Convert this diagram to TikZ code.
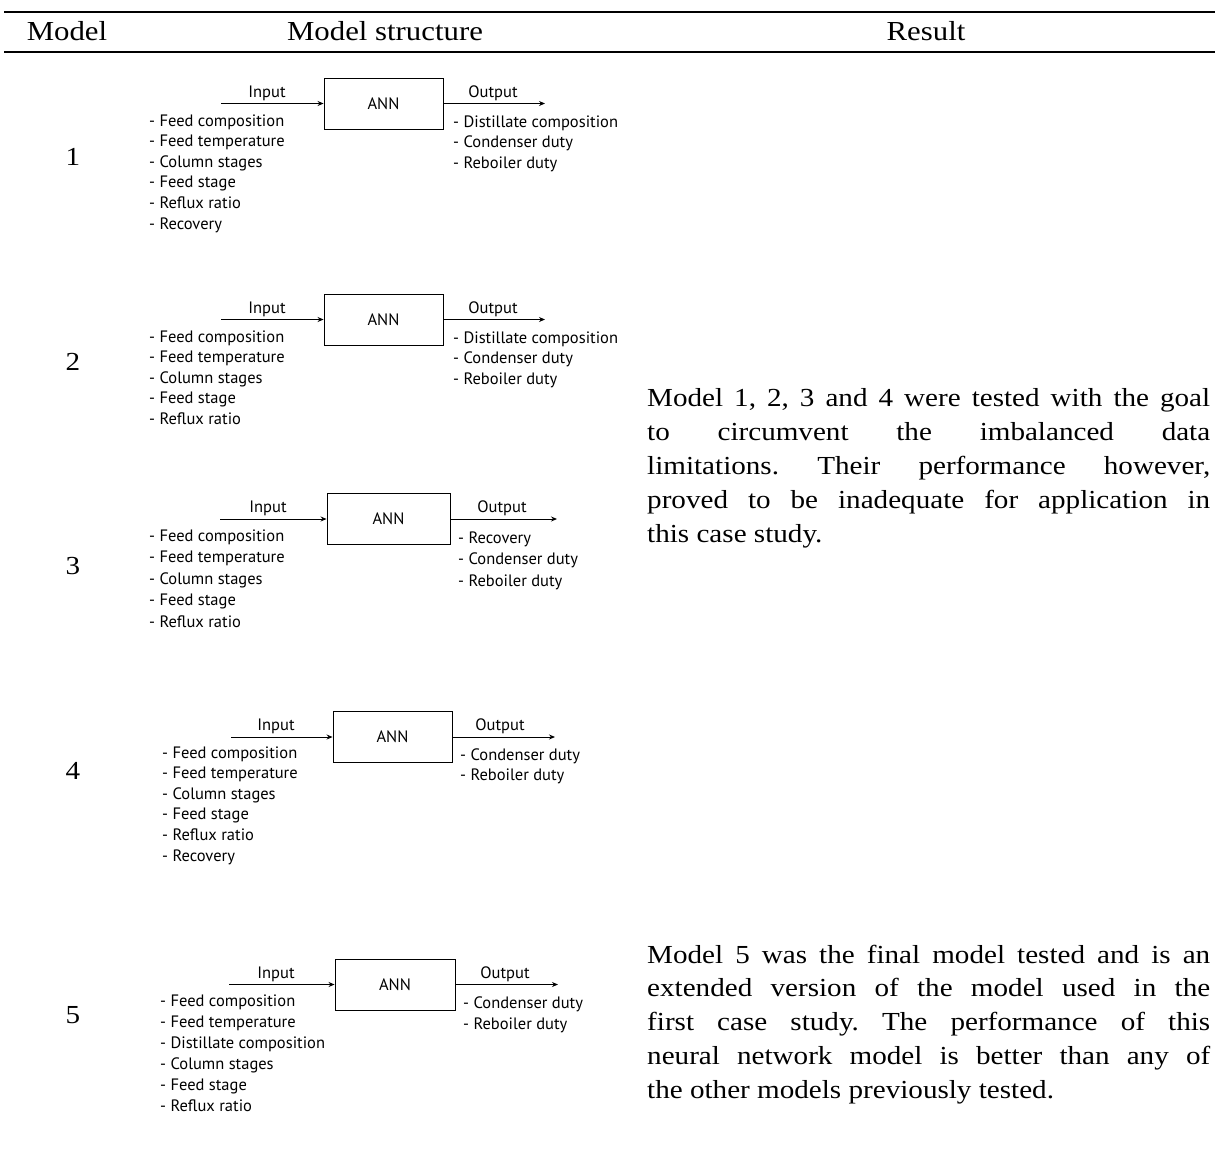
\documentclass[tikz,border=0pt]{standalone}
\usepackage{fontspec}
\usetikzlibrary{arrows.meta}
\setmainfont[FakeStretch=1.12]{Liberation Serif}
\newfontfamily\diagfont{PT Sans}
\frenchspacing
\begin{document}
\begin{tikzpicture}[x=1pt,y=-1pt,
  rulestyle/.style={line width=2pt},
  headtext/.style={inner sep=0pt,font=\fontsize{27.5}{32}\selectfont},
  numtext/.style={inner sep=0pt,font=\fontsize{26}{32}\selectfont},
  paratext/.style={inner sep=0pt,anchor=base west,font=\fontsize{26}{34}\selectfont},
  annbox/.style={draw,line width=0.9pt,inner sep=0pt,font=\diagfont\fontsize{16.5}{20}\selectfont},
  flow/.style={line width=0.9pt,-{Stealth[length=6pt,width=5pt]}},
  label/.style={inner sep=0pt,font=\diagfont\fontsize{16.5}{20}\selectfont},
  item/.style={inner sep=0pt,anchor=base west,font=\diagfont\fontsize{16.5}{20}\selectfont}]
\useasboundingbox (0,0) rectangle (1215,1151);

% table header
\coordinate (rtl) at (4,12);   \coordinate (rtr) at (1215,12);
\coordinate (rbl) at (4,52);   \coordinate (rbr) at (1215,52);
\draw[rulestyle] (rtl) -- (rtr);
\draw[rulestyle] (rbl) -- (rbr);
\node[headtext] (hmodel) at (67,31) {Model};
\node[headtext] (hstruct) at (385,31) {Model structure};
\node[headtext] (hresult) at (926,31) {Result};

% model numbers
\node[numtext] (n1) at (73,157) {1};
\node[numtext] (n2) at (73,362) {2};
\node[numtext] (n3) at (73,566) {3};
\node[numtext] (n4) at (73,771) {4};
\node[numtext] (n5) at (73,1015) {5};

% one model: #1 name, #2 box centre x, #3 box centre y, #4 box width, #5 arrow start x, #6 arrow end x,
% #7 input label x, #8 output label x, #9 label y
\newcommand\annmodel[9]{%
  \node[annbox,minimum width=#4,minimum height=51] (#1box) at (#2,#3) {ANN};
  \coordinate (#1in) at (#5,#3);
  \coordinate (#1out) at (#6,#3);
  \draw[flow] (#1in) -- (#1box.west);
  \draw[flow] (#1box.east) -- (#1out);
  \node[label] (#1inlab) at (#7,#9) {Input};
  \node[label] (#1outlab) at (#8,#9) {Output};
}

\annmodel{ma}{383.5}{103.5}{119}{221}{545}{267}{493}{93}
\annmodel{mb}{383.5}{319.5}{119}{221}{545}{267}{493}{309}
\annmodel{mc}{388.5}{519}{123}{220}{557}{268}{502}{508}
\annmodel{md}{392.5}{737}{119}{231}{555}{276}{500}{726}
\annmodel{me}{395}{984.5}{120}{229}{558}{276}{505}{974}

% input and output lists (baselines)
\foreach \t [count=\i] in {Feed composition,Feed temperature,Column stages,Feed stage,Reflux ratio,Recovery}
  \node[item] (main\i) at (149,{126+(\i-1)*20.6}) {- \t};
\foreach \t [count=\i] in {Distillate composition,Condenser duty,Reboiler duty}
  \node[item] (maout\i) at (453,{127+(\i-1)*20.7}) {- \t};

\foreach \t [count=\i] in {Feed composition,Feed temperature,Column stages,Feed stage,Reflux ratio}
  \node[item] (mbin\i) at (149,{342+(\i-1)*20.5}) {- \t};
\foreach \t [count=\i] in {Distillate composition,Condenser duty,Reboiler duty}
  \node[item] (mbout\i) at (453,{343+(\i-1)*20.7}) {- \t};

\foreach \t [count=\i] in {Feed composition,Feed temperature,Column stages,Feed stage,Reflux ratio}
  \node[item] (mcin\i) at (149,{541+(\i-1)*21.5}) {- \t};
\foreach \t [count=\i] in {Recovery,Condenser duty,Reboiler duty}
  \node[item] (mcout\i) at (458,{543+(\i-1)*21.5}) {- \t};

\foreach \t [count=\i] in {Feed composition,Feed temperature,Column stages,Feed stage,Reflux ratio,Recovery}
  \node[item] (mdin\i) at (162,{758+(\i-1)*20.6}) {- \t};
\foreach \t [count=\i] in {Condenser duty,Reboiler duty}
  \node[item] (mdout\i) at (460,{760+(\i-1)*20.7}) {- \t};

\foreach \t [count=\i] in {Feed composition,Feed temperature,Distillate composition,Column stages,Feed stage,Reflux ratio}
  \node[item] (mein\i) at (160,{1006+(\i-1)*21}) {- \t};
\foreach \t [count=\i] in {Condenser duty,Reboiler duty}
  \node[item] (meout\i) at (463,{1008+(\i-1)*21}) {- \t};

% result texts, justified line by line
\node[paratext] (ra1) at (647,406) {\makebox[563pt][s]{Model 1, 2, 3 and 4 were tested with the goal}};
\node[paratext] (ra2) at (647,440) {\makebox[563pt][s]{to circumvent the imbalanced data}};
\node[paratext] (ra3) at (647,474) {\makebox[563pt][s]{limitations. Their performance however,}};
\node[paratext] (ra4) at (647,508) {\makebox[563pt][s]{proved to be inadequate for application in}};
\node[paratext] (ra5) at (647,542) {this case study.};

\node[paratext] (rb1) at (647,963) {\makebox[563pt][s]{Model 5 was the final model tested and is an}};
\node[paratext] (rb2) at (647,996) {\makebox[563pt][s]{extended version of the model used in the}};
\node[paratext] (rb3) at (647,1030) {\makebox[563pt][s]{first case study. The performance of this}};
\node[paratext] (rb4) at (647,1064) {\makebox[563pt][s]{neural network model is better than any of}};
\node[paratext] (rb5) at (647,1098) {the other models previously tested.};
\end{tikzpicture}
\end{document}
